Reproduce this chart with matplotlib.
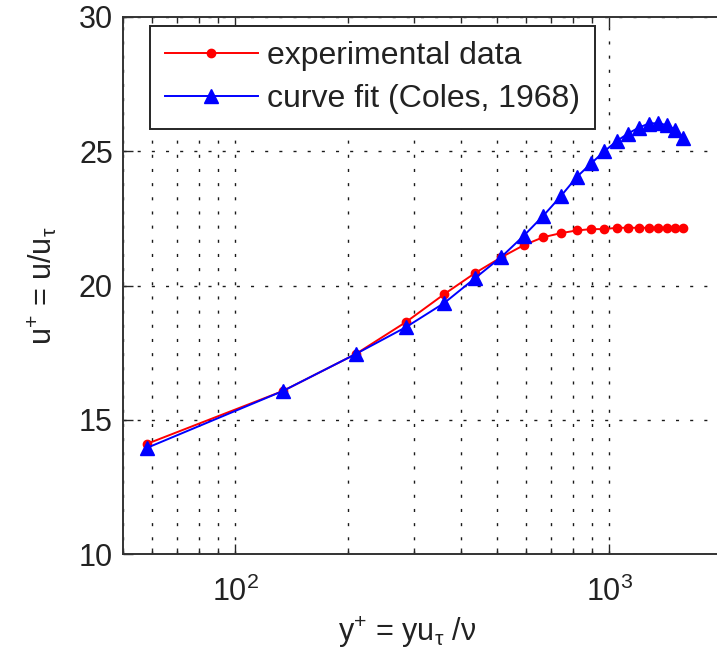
import matplotlib
matplotlib.use("Agg")
import matplotlib.pyplot as plt
from matplotlib.ticker import LogLocator, FixedLocator, NullFormatter

plt.rcParams["font.family"] = ["Liberation Sans", "DejaVu Sans"]
plt.rcParams["mathtext.fontset"] = "custom"
plt.rcParams["mathtext.rm"] = "Liberation Sans"
plt.rcParams["mathtext.it"] = "Liberation Sans"
plt.rcParams["mathtext.default"] = "regular"

# wall-normal distance in viscous units
y_plus = [58, 134, 210, 286, 362, 438, 514, 590, 666, 742, 818,
          894, 970, 1046, 1122, 1198, 1274, 1350, 1426, 1502, 1578]
# measured mean velocity in wall units
u_exp = [14.10, 16.07, 17.45, 18.64, 19.68, 20.47, 21.05, 21.50, 21.80,
         21.95, 22.05, 22.10, 22.10, 22.15, 22.15, 22.15, 22.15, 22.15,
         22.15, 22.15, 22.15]
# Coles wall-wake law fit
u_fit = [13.95, 16.07, 17.45, 18.45, 19.35, 20.28, 21.06, 21.85, 22.60,
         23.33, 24.04, 24.55, 25.00, 25.38, 25.66, 25.88, 26.03, 26.05,
         25.97, 25.80, 25.50]

labels = ["experimental data", "curve fit (Coles, 1968)"]
y_ticks = [10, 15, 20, 25, 30]

W, H = 717, 653
fig = plt.figure(figsize=(W / 100, H / 100), dpi=100)
# the axes box runs just past the right edge of the canvas
left, right, top, bottom = 122.7, 722.0, 17.0, 554.0
ax = fig.add_axes([left / W, 1 - bottom / H, (right - left) / W, (bottom - top) / H])
ax.patch.set_edgecolor("none")

ax.plot(y_plus, u_exp, color="red", lw=1.4, marker="o", ms=6,
        mec="red", mfc="red", label=labels[0], zorder=3)
ax.plot(y_plus, u_fit, color="blue", lw=1.4, marker="^", ms=9.5,
        mec="blue", mfc="blue", label=labels[1], zorder=4)

ax.set_xscale("log")
ax.set_xlim(50, 2000)
ax.set_ylim(10, 30)
ax.yaxis.set_major_locator(FixedLocator(y_ticks))
ax.xaxis.set_major_locator(LogLocator(base=10, numticks=10))
ax.xaxis.set_minor_locator(LogLocator(base=10, subs=range(2, 10), numticks=20))
ax.xaxis.set_minor_formatter(NullFormatter())

grid_style = dict(color="0.1", lw=1.0, dashes=(2.2, 8.0))
ax.grid(True, which="major", axis="both", **grid_style)
ax.grid(True, which="minor", axis="x", **grid_style)
ax.set_axisbelow(True)

ax.tick_params(which="both", direction="in", top=True, right=False,
               labelsize=22, labelcolor="#222222", color="0.15")
ax.tick_params(which="major", length=7, width=1.0)
ax.tick_params(which="minor", length=4, width=1.0)
ax.tick_params(axis="x", which="major", pad=16)
ax.tick_params(axis="y", which="major", pad=7)
for s in ax.spines.values():
    s.set_linewidth(1.4)
    s.set_color("0.2")
ax.spines["right"].set_color("none")
ax.spines["right"].set_visible(False)

ax.set_xlabel("y$^{+}$ = yu$_{τ}$ /ν", fontsize=22, color="#222222")
ax.set_ylabel("u$^{+}$ = u/u$_{τ}$", fontsize=22, color="#222222")
ax.xaxis.set_label_coords((407 - left) / (right - left), -(632 - bottom) / (bottom - top),
                          transform=ax.transAxes)
ax.xaxis.label.set_va("center")
ax.yaxis.set_label_coords(-(left - 42) / (right - left), 0.5, transform=ax.transAxes)
ax.yaxis.label.set_va("center")

leg = ax.legend(loc="upper left",
                bbox_to_anchor=((150 - left) / (right - left), (bottom - 26) / (bottom - top)),
                borderaxespad=0, fontsize=23, handlelength=2.9, handletextpad=0.3,
                borderpad=0.47, labelspacing=0.42, fancybox=False, framealpha=1,
                edgecolor="0.15")
leg.get_frame().set_linewidth(1.4)
for t in leg.get_texts():
    t.set_color("#222222")

fig.savefig("out.png", dpi=100)
